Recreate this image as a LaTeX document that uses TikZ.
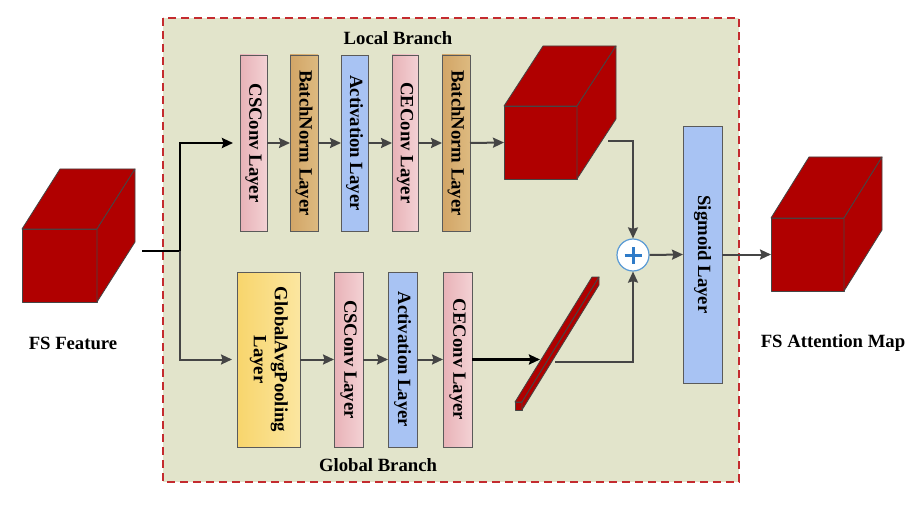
\documentclass[tikz,border=0pt]{standalone}
\usepackage{fontspec}
\setmainfont{Liberation Serif}
\usetikzlibrary{arrows.meta,calc}
\definecolor{framefill}{HTML}{E2E4CB}
\definecolor{framered}{HTML}{C42B2F}
\definecolor{cubered}{HTML}{B00000}
\definecolor{edgegray}{HTML}{454545}
\definecolor{boxline}{HTML}{5A5A5A}
\definecolor{pinkL}{HTML}{E8B2B7}
\definecolor{pinkR}{HTML}{F3D1D4}
\definecolor{brownL}{HTML}{D2A566}
\definecolor{brownR}{HTML}{DDBA80}
\definecolor{actblue}{HTML}{A8C3F3}
\definecolor{yelL}{HTML}{F8D56C}
\definecolor{yelR}{HTML}{FBE6A0}
\definecolor{plusblue}{HTML}{2F7BC8}
\definecolor{ringblue}{HTML}{5B9BD5}
\newcommand\vtext[1]{\rotatebox{-90}{#1}}
\newcommand\cubefaces[3]{%
  \filldraw[cubeface] (#1.north west) -- ++(#2,#3) -- ($(#1.north east)+(#2,#3)$) -- (#1.north east) -- cycle;
  \filldraw[cubeface] (#1.north east) -- ++(#2,#3) -- ($(#1.south east)+(#2,#3)$) -- (#1.south east) -- cycle;}
\tikzset{
  txt/.style={font=\fontsize{18.7}{21}\selectfont\bfseries, inner sep=0pt},
  layer/.style={draw=boxline, line width=0.8pt, inner sep=0pt, outer sep=0pt,
    minimum width=#1, font=\fontsize{18.7}{21}\selectfont\bfseries},
  pinkbox/.style={layer=#1, left color=pinkL, right color=pinkR},
  brownbox/.style={layer=#1, left color=brownL, right color=brownR},
  bluebox/.style={layer=#1, fill=actblue},
  yellowbox/.style={layer=#1, left color=yelL, right color=yelR},
  cubeface/.style={fill=cubered, draw=edgegray, line width=0.8pt, line join=round},
  cubefront/.style={cubeface, inner sep=0pt, outer sep=0pt},
  garrow/.style={draw=edgegray, line width=2pt, -{Stealth[length=11pt,width=10pt,inset=1.5pt]}},
  gline/.style={draw=edgegray, line width=2pt},
  barrow/.style={draw=black, line width=2.2pt, -{Stealth[length=11pt,width=10pt,inset=1.5pt]}},
  bline/.style={draw=black, line width=2.2pt},
}
\begin{document}
\begin{tikzpicture}[x=1pt,y=-1pt]
\useasboundingbox (0,0) rectangle (924,508);
% frame
\draw[fill=framefill, draw=framered, line width=1.4pt, dash pattern=on 8pt off 5pt] (163,18) rectangle (739,482);

% labels
\node[txt] (lbl) at (398,38) {Local Branch};
\node[txt] (gbl) at (378,465) {Global Branch};
\node[txt] (fsf) at (73,343) {FS Feature};
\node[txt] (fsa) at (833,343) {FS Attention Map};

% cubes
\node[cubefront, minimum width=75, minimum height=73] (fin) at (59.5,265.5) {};
\cubefaces{fin}{38}{-60}
\node[cubefront, minimum width=73, minimum height=73] (lcube) at (540.5,142.5) {};
\cubefaces{lcube}{39}{-60}
\node[cubefront, minimum width=73, minimum height=73] (fout) at (807.5,254.5) {};
\cubefaces{fout}{38}{-61}
\node[cubefront, minimum width=7, minimum height=8] (slab) at (518.5,406) {};
\cubefaces{slab}{77}{-125}

% local branch
\node[pinkbox=27, minimum height=176] (cs1) at (253.5,143) {\vtext{CSConv Layer}};
\node[brownbox=28, minimum height=176] (bn1) at (304,143) {\vtext{BatchNorm Layer}};
\node[bluebox=27, minimum height=176] (ac1) at (354.5,143) {\vtext{Activation Layer}};
\node[pinkbox=26, minimum height=176] (ce1) at (405,143) {\vtext{CEConv Layer}};
\node[brownbox=28, minimum height=176] (bn2) at (456,143) {\vtext{BatchNorm Layer}};

% global branch
\node[yellowbox=63, minimum height=175] (gap) at (268.5,359.5) {\vtext{\begin{tabular}{@{}c@{}}GlobalAvgPooling\\Layer\end{tabular}}};
\node[pinkbox=29, minimum height=175] (cs2) at (348.5,359.5) {\vtext{CSConv Layer}};
\node[bluebox=29, minimum height=175] (ac2) at (402.5,359.5) {\vtext{Activation Layer}};
\node[pinkbox=29, minimum height=175] (ce2) at (457.5,359.5) {\vtext{CEConv Layer}};

% sigmoid and plus
\node[bluebox=39, minimum height=257] (sig) at (702.5,254.5) {\vtext{Sigmoid Layer}};
\node[circle, draw=ringblue, fill=white, line width=1.2pt, minimum size=32pt, inner sep=0pt,
  path picture={\draw[plusblue, line width=3pt]
    ([xshift=-8.5pt]path picture bounding box.center) -- ([xshift=8.5pt]path picture bounding box.center)
    ([yshift=-8.5pt]path picture bounding box.center) -- ([yshift=8.5pt]path picture bounding box.center);}]
  (plus) at (633,255) {};

% connectors
\coordinate (finout) at (142,251);
\coordinate (split) at (180,251);
\draw[bline] (finout) -- (split);
\draw[barrow, shorten >=7pt] (split) |- (cs1.west);
\draw[garrow, shorten >=5pt] (split) |- (gap.west);

\draw[garrow] (cs1.east) -- (bn1.west);
\draw[garrow] (bn1.east) -- (ac1.west);
\draw[garrow] (ac1.east) -- (ce1.west);
\draw[garrow] (ce1.east) -- (bn2.west);
\draw[garrow] (bn2.east) -- (lcube.west);

\draw[garrow] (gap.east) -- (cs2.west);
\draw[garrow] (cs2.east) -- (ac2.west);
\draw[garrow] (ac2.east) -- (ce2.west);
\coordinate (slabin) at (540,359.5);
\draw[barrow] (ce2.east) -- (slabin);

\coordinate (lout) at (608,141);
\draw[garrow] (lout) -| (plus.north);
\coordinate (sout) at (555,362);
\draw[garrow] (sout) -| (plus.south);
\draw[garrow] (plus.east) -- (sig.west);
\draw[garrow] (sig.east) -- (fout.west);
\end{tikzpicture}
\end{document}
